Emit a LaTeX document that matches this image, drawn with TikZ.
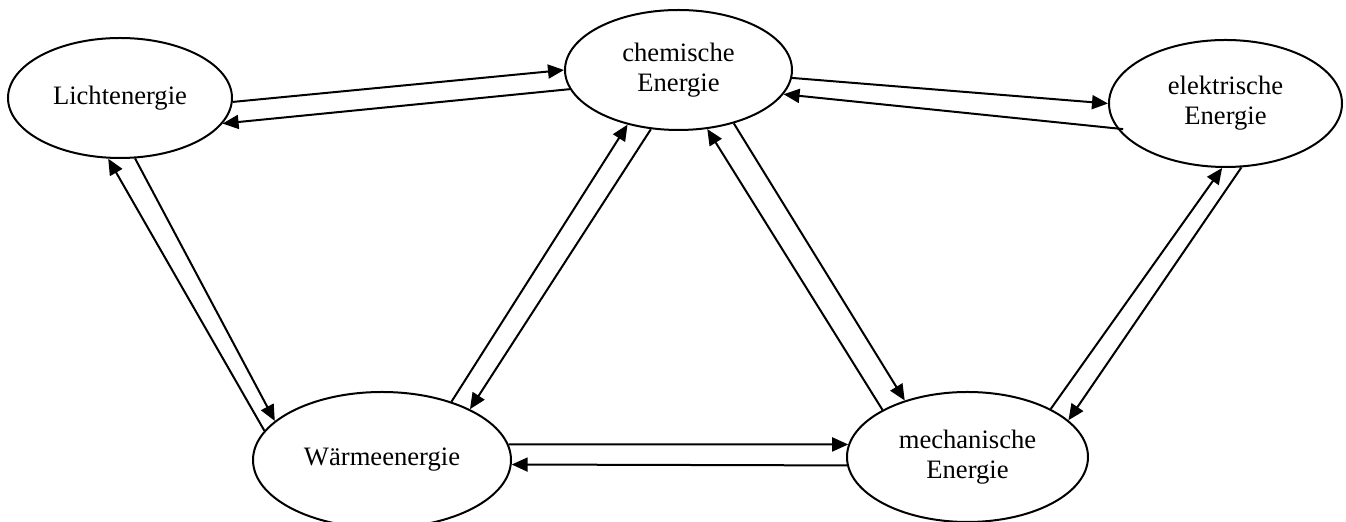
\documentclass[tikz,border=0pt]{standalone}
\usepackage{fontspec}
\setmainfont{Liberation Serif}
\usetikzlibrary{shapes.geometric,arrows.meta}
\begin{document}
\begin{tikzpicture}[x=0.5pt,y=-0.5pt,
  enode/.style={draw,ellipse,inner sep=0pt,line width=1pt,align=center,
    font=\fontsize{13.3}{15}\selectfont},
  conn/.style={line width=1pt,-{Triangle[length=8pt,width=7pt]}}]
\useasboundingbox (0,0) rectangle (1346,522);
\node[enode,minimum width=112pt,minimum height=60pt] (L) at (120,98) {Lichtenergie};
\node[enode,minimum width=113.5pt,minimum height=60pt] (C) at (678.5,70) {chemische\\Energie};
\node[enode,minimum width=116.5pt,minimum height=63.5pt] (E) at (1225.5,103.5) {elektrische\\Energie};
\node[enode,minimum width=129pt,minimum height=68pt] (W) at (382,460) {Wärmeenergie};
\node[enode,minimum width=120.5pt,minimum height=65pt] (M) at (967.5,457) {mechanische\\Energie};
% L <-> C
\draw[conn] (L.358) -- (C.180);
\draw[conn] (C.190) -- (L.346);
% C <-> E
\draw[conn] (C.356) -- (E.180);
\draw[conn,shorten <=-3pt] (E.193) -- (C.347);
% L <-> W
\draw[conn] (W.166) -- (L.259);
\draw[conn] (L.284) -- (W.160);
% W <-> C
\draw[conn] (W.40) -- (C.227);
\draw[conn] (C.245) -- (W.30);
% C <-> M
\draw[conn] (M.151) -- (C.296);
\draw[conn] (C.316) -- (M.138);
% M <-> E
\draw[conn] (M.30) -- (E.267);
\draw[conn] (E.284) -- (M.20);
% W <-> M
\draw[conn] (W.7) -- (M.174);
\draw[conn] (M.184) -- (W.358);
\end{tikzpicture}
\end{document}
